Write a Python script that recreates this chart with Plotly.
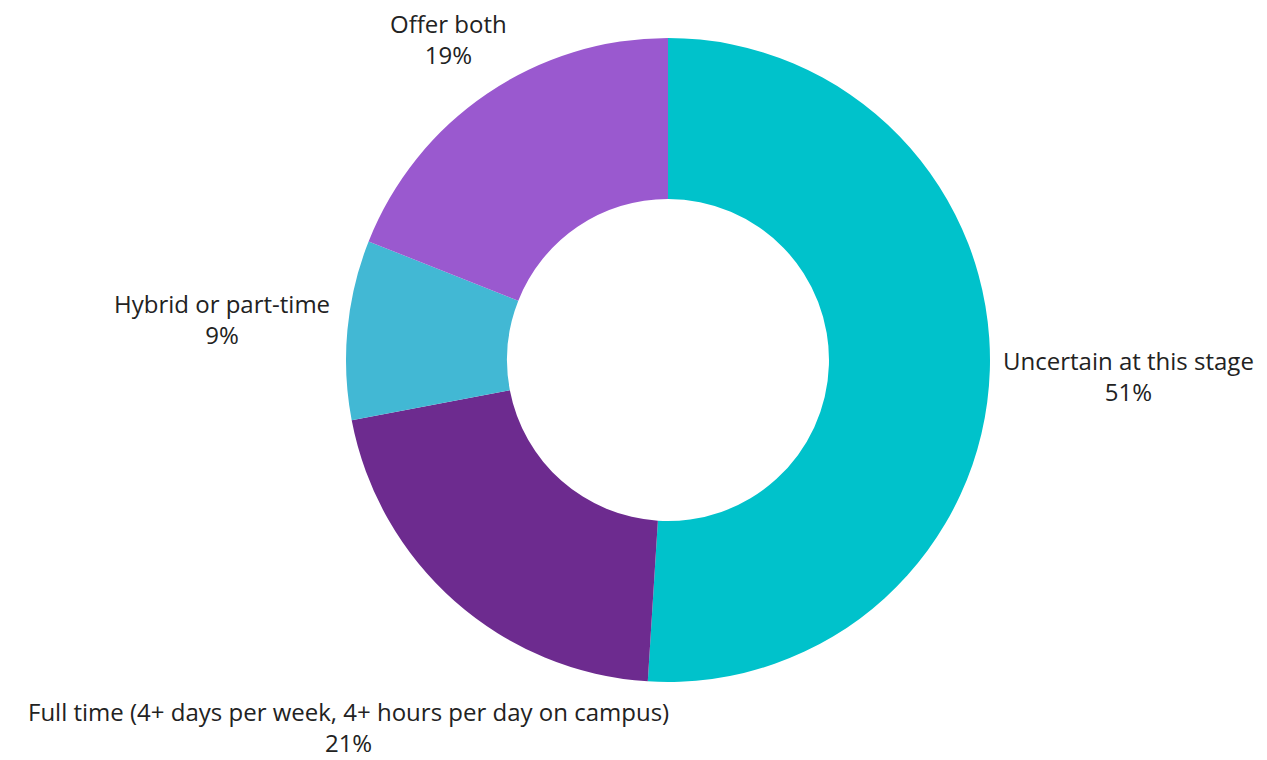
import plotly.graph_objects as go

categories = ["Uncertain at this stage",
              "Full time (4+ days per week, 4+ hours per day on campus)",
              "Hybrid or part-time",
              "Offer both"]
values = [51, 21, 9, 19]
colors = ["#00C2CB", "#6D2B8F", "#42B8D4", "#9A59CF"]

W, H = 1267, 760
OFF = 8  # default page margin of the html body
# label anchor positions (pixel centre x, centre y of the two-line label)
label_pos = {
    "Uncertain at this stage": (1128, 376),
    "Full time (4+ days per week, 4+ hours per day on campus)": (348, 727),
    "Hybrid or part-time": (222, 319),
    "Offer both": (448, 39),
}

fig = go.Figure(go.Pie(
    labels=categories,
    values=values,
    hole=0.5,
    sort=False,
    direction="clockwise",
    rotation=0,
    marker=dict(colors=colors, line=dict(width=0)),
    textinfo="none",
    hoverinfo="label+percent",
    showlegend=False,
    domain=dict(x=[(346 - OFF) / W, (990 - OFF) / W],
                y=[1 - (682 - OFF) / H, 1 - (38 - OFF) / H]),
))

font = dict(family="Open Sans, Lato, sans-serif", size=24, color="#222222")
for cat, val in zip(categories, values):
    px, py = label_pos[cat]
    fig.add_annotation(x=(px - OFF) / W, y=1 - (py - OFF) / H, xref="paper", yref="paper",
                       text=f"{cat}<br>{val}%", showarrow=False, font=font,
                       align="center", xanchor="center", yanchor="middle")

fig.update_layout(
    width=W, height=H,
    margin=dict(l=0, r=0, t=0, b=0),
    paper_bgcolor="white",
    plot_bgcolor="white",
)
fig.write_html("out.html")
